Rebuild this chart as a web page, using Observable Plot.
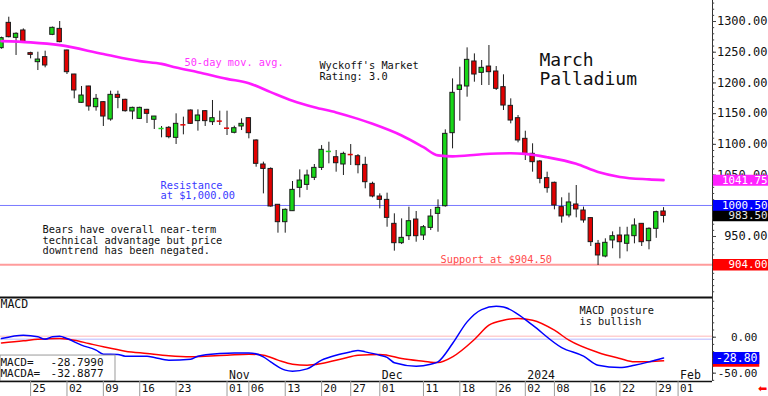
<!DOCTYPE html>
<html><head><meta charset="utf-8">
<script src="https://cdn.jsdelivr.net/npm/d3@7"></script>
<script src="https://cdn.jsdelivr.net/npm/@observablehq/plot@0.6"></script>
<style>
html,body{margin:0;padding:0;background:#fff;}
#chart{width:768px;height:396px;overflow:hidden;background:#fff;}
#chart svg{display:block;}
</style></head><body><div id="chart"></div>
<script>
// ---------- data ----------
const dates = [
"2023-09-19","2023-09-20","2023-09-21","2023-09-22","2023-09-25","2023-09-26","2023-09-27","2023-09-28","2023-09-29",
"2023-10-02","2023-10-03","2023-10-04","2023-10-05","2023-10-06","2023-10-09","2023-10-10","2023-10-11","2023-10-12","2023-10-13","2023-10-16","2023-10-17","2023-10-18","2023-10-19","2023-10-20","2023-10-23","2023-10-24","2023-10-25","2023-10-26","2023-10-27","2023-10-30","2023-10-31",
"2023-11-01","2023-11-02","2023-11-03","2023-11-06","2023-11-07","2023-11-08","2023-11-09","2023-11-10","2023-11-13","2023-11-14","2023-11-15","2023-11-16","2023-11-17","2023-11-20","2023-11-21","2023-11-22","2023-11-24","2023-11-27","2023-11-28","2023-11-29","2023-11-30",
"2023-12-01","2023-12-04","2023-12-05","2023-12-06","2023-12-07","2023-12-08","2023-12-11","2023-12-12","2023-12-13","2023-12-14","2023-12-15","2023-12-18","2023-12-19","2023-12-20","2023-12-21","2023-12-22","2023-12-26","2023-12-27","2023-12-28","2023-12-29",
"2024-01-02","2024-01-03","2024-01-04","2024-01-05","2024-01-08","2024-01-09","2024-01-10","2024-01-11","2024-01-12","2024-01-16","2024-01-17","2024-01-18","2024-01-19","2024-01-22","2024-01-23","2024-01-24","2024-01-25","2024-01-26","2024-01-29","2024-01-30"];
const futureDates = ["2024-01-31","2024-02-01","2024-02-02","2024-02-05","2024-02-06","2024-02-07"];

const open = [
1256.6,1297.8,1273.4,1285.4,1248.5,1233.8,1242.0,1278.3,1288.0,1252.8,
1213.7,1167.6,1194.2,1160.5,1168.7,1140.5,1180.6,1172.5,1153.5,1141.5,
1156.2,1140.0,1125.3,1126.9,1110.6,1132.4,1155.1,1137.8,1154.0,1136.1,
1138.4,1126.9,1118.8,1129.1,1142.6,1106.3,1067.2,1060.0,1001.6,973.3,
991.2,1029.2,1034.0,1045.5,1061.7,1088.0,1079.1,1067.2,1084.0,1080.7,
1066.6,1035.7,1015.1,1009.6,970.6,939.1,950.5,977.6,951.6,964.0,
986.8,999.3,1118.2,1188.7,1194.2,1234.9,1216.4,1226.7,1218.6,1193.1,
1162.7,1142.6,1109.0,1084.6,1072.1,1045.0,1037.4,997.8,984.2,1002.1,
992.3,979.9,938.1,917.4,943.5,951.6,938.1,950.5,970.6,942.4,
962.5,990.7];
const high = [
1274.5,1307.0,1281.6,1288.0,1250.0,1250.0,1251.7,1291.0,1300.0,1253.5,
1214.0,1194.2,1194.5,1181.2,1169.5,1186.6,1186.6,1173.5,1160.5,1160.5,
1157.0,1145.5,1129.0,1129.0,1149.7,1144.3,1156.0,1156.2,1155.0,1171.4,
1154.0,1154.0,1129.6,1141.5,1143.0,1107.4,1071.0,1061.7,1002.0,995.0,
1039.5,1058.5,1058.0,1067.2,1098.0,1103.5,1090.0,1087.2,1099.7,1083.4,
1079.0,1038.4,1019.4,1020.5,986.9,978.7,997.7,990.7,967.8,993.9,
1009.6,1123.6,1206.6,1225.6,1257.1,1247.3,1236.5,1260.9,1226.7,1213.2,
1174.1,1146.9,1121.4,1100.9,1073.7,1054.7,1038.5,1013.0,1020.5,1033.0,
997.8,980.5,943.5,946.2,957.5,965.0,965.0,978.7,970.6,964.1,
991.2,997.0];
const low = [
1255.0,1273.4,1244.7,1265.3,1239.2,1220.2,1224.6,1277.0,1265.3,1213.7,
1174.1,1166.5,1154.0,1154.0,1129.1,1137.7,1158.0,1152.4,1140.0,1140.4,
1134.0,1124.2,1110.6,1109.0,1099.8,1115.5,1132.3,1121.5,1129.1,1130.7,
1130.7,1114.4,1117.1,1122.5,1109.0,1062.8,1019.4,997.7,955.4,955.4,
991.0,1012.9,1025.0,1041.1,1057.4,1068.3,1054.7,1049.3,1065.6,1052.0,
1027.6,1012.9,995.0,965.1,926.1,936.9,943.5,940.7,943.5,959.7,
957.0,997.7,1092.7,1137.7,1176.8,1201.2,1195.8,1195.8,1187.7,1155.1,
1133.4,1102.4,1073.7,1054.7,1035.8,1020.5,993.4,971.7,980.4,980.4,
971.7,933.7,902.8,915.3,930.0,913.6,925.0,938.1,933.7,928.3,
947.0,972.0];
const close = [
1272.9,1274.5,1280.0,1266.4,1245.7,1238.1,1228.4,1289.7,1266.4,1217.5,
1187.7,1179.5,1161.6,1174.1,1145.3,1180.6,1175.7,1154.0,1159.4,1159.4,
1149.7,1145.3,1125.8,1111.7,1133.4,1131.8,1133.4,1147.0,1137.8,1142.6,
1137.8,1126.3,1126.3,1133.4,1118.2,1068.3,1060.0,998.8,973.3,993.4,
1025.9,1041.1,1049.3,1061.7,1091.1,1088.5,1069.3,1084.5,1083.4,1066.1,
1038.4,1015.1,1009.6,980.3,939.1,947.8,974.9,950.5,965.1,982.5,
996.6,1117.1,1183.9,1195.8,1237.6,1213.7,1224.6,1217.5,1190.4,1163.2,
1138.8,1106.3,1084.5,1071.0,1043.9,1028.7,1000.5,982.6,1005.4,994.0,
976.1,940.8,919.1,939.7,950.5,940.7,951.6,967.9,940.7,962.5,
989.6,983.5];

const maDates = ["2023-09-19","2023-09-25","2023-09-29","2023-10-09","2023-10-16","2023-10-19","2023-10-23","2023-10-26","2023-11-01","2023-11-06","2023-11-09","2023-11-14","2023-11-17","2023-11-22","2023-11-28","2023-11-30","2023-12-06","2023-12-11","2023-12-13","2023-12-15","2023-12-21","2023-12-28","2024-01-02","2024-01-05","2024-01-11","2024-01-17","2024-01-22","2024-01-26","2024-01-30"];
const maValues = [1268,1266,1261.5,1247,1235.5,1231,1225,1217.5,1206.6,1199.6,1185,1171,1160.5,1152,1141.5,1133.4,1114.4,1095.4,1082,1080.5,1084,1085.6,1084.5,1079,1068.3,1055,1047,1043,1041.75];

const macdDates = ["2023-09-19","2023-09-22","2023-09-26","2023-09-27","2023-09-28","2023-09-29","2023-10-02","2023-10-04","2023-10-06","2023-10-09","2023-10-11","2023-10-12","2023-10-17","2023-10-18","2023-10-20","2023-10-25","2023-10-26","2023-10-31","2023-11-02","2023-11-06","2023-11-08","2023-11-09","2023-11-13","2023-11-14","2023-11-16","2023-11-20","2023-11-22","2023-11-27","2023-11-28","2023-11-29","2023-12-01","2023-12-04","2023-12-05","2023-12-08","2023-12-12","2023-12-13","2023-12-15","2023-12-19","2023-12-21","2023-12-26","2023-12-27","2023-12-29","2024-01-03","2024-01-09","2024-01-12","2024-01-17","2024-01-22","2024-01-24","2024-01-26","2024-01-30"];
const macdValues = [-1.9,2.8,0.5,-2.8,0.5,1.4,-1.9,-11,-18,-23.6,-24,-26.4,-26.4,-28.2,-31.9,-30.5,-26.4,-22.7,-21.8,-21.8,-27.3,-34.3,-45.8,-47.2,-44,-31.9,-25,-20.4,-18.5,-20.4,-25,-28,-35.6,-40.3,-37.5,-34.3,-8.8,21.3,38.4,43,42.1,31.9,16.7,-14.4,-26.4,-38.9,-42.1,-38.9,-34.3,-28.8];

const signalDates = ["2023-09-19","2023-09-22","2023-09-26","2023-09-29","2023-10-03","2023-10-05","2023-10-09","2023-10-12","2023-10-17","2023-10-20","2023-10-25","2023-10-27","2023-11-01","2023-11-06","2023-11-08","2023-11-10","2023-11-14","2023-11-16","2023-11-20","2023-11-24","2023-11-28","2023-12-01","2023-12-04","2023-12-06","2023-12-11","2023-12-13","2023-12-15","2023-12-20","2023-12-22","2023-12-27","2023-12-29","2024-01-03","2024-01-08","2024-01-10","2024-01-17","2024-01-22","2024-01-24","2024-01-26","2024-01-30"];
const signalValues = [-7.9,-5.1,-2.8,-1.9,-4.2,-8.8,-13.4,-19.4,-22.7,-25.9,-27.3,-26.4,-25,-23.6,-25,-31.9,-37.5,-38.9,-36.6,-29.6,-25,-24,-25,-29.6,-33.3,-35.2,-27.3,-3.2,16.7,23.6,25.9,23.6,9.7,-4.2,-21.3,-29.6,-34.3,-34,-32.9];

const priceTicks = [1300,1250,1200,1150,1100,1050,1000,950,900];
const priceTickLabels = [1300,1250,1200,1150,1100,1050,950];
const macdTicks = [0,-50];
const dateTicks = ["2023-09-25","2023-10-02","2023-10-09","2023-10-16","2023-10-23","2023-11-01","2023-11-06","2023-11-13","2023-11-20","2023-11-27","2023-12-01","2023-12-11","2023-12-18","2023-12-26","2024-01-02","2024-01-08","2024-01-16","2024-01-22","2024-01-29","2024-02-01"];
const dateTickLabels = ["25","02","09","16","23","01","06","13","20","27","01","11","18","26","02","08","16","22","29","01"];
const monthDates = ["2023-11-01","2023-12-01","2024-01-02","2024-02-01"];
const monthLabels = ["Nov","Dec","2024","Feb"];

const lastClose = 983.5, ma50Last = 1041.75, resistance = 1000.5, support = 904;
const macdLast = -28.7990, macdaLast = -32.8877;

// ---------- build ----------
const slots = dates.concat(futureDates);
const idx = d => slots.indexOf(d);
const candles = dates.map((d, k) => ({i: idx(d), o: open[k], h: high[k], l: low[k], c: close[k]}));
const ma = maDates.map((d, k) => ({i: idx(d), v: maValues[k]}));
const macd = macdDates.map((d, k) => ({i: idx(d), v: macdValues[k]}));
const signal = signalDates.map((d, k) => ({i: idx(d), v: signalValues[k]}));

const GREEN = "#18d818", RED = "#e20000", INK = "#1c1c1c";
const MONO = "DejaVu Sans Mono";
const xMin = -0.137, xMax = 97.73;
const boxX1 = xMax + 0.12, boxX2 = xMax + 7.9;
const isDoji = d => Math.abs(d.c - d.o) < 1;

const price = Plot.plot({
  width: 768, height: 296, marginTop: 0, marginBottom: 0, marginLeft: 0, marginRight: 56,
  style: {fontFamily: MONO, fontSize: "10.3px", background: "white", overflow: "visible"},
  x: {type: "linear", domain: [xMin, xMax], axis: null},
  y: {type: "linear", domain: [852.3, 1334.2], axis: null},
  marks: [
    Plot.ruleY([resistance], {stroke: "#7a7aff", strokeWidth: 1}),
    Plot.ruleY([support], {stroke: "#ff9c9c", strokeWidth: 2}),
    Plot.ruleX(candles, {x: "i", y1: "l", y2: "h", stroke: INK, strokeWidth: 1}),
    Plot.rect(candles.filter(d => !isDoji(d)), {
      x1: d => d.i - 0.3, x2: d => d.i + 0.3, y1: "o", y2: "c",
      fill: d => d.c >= d.o ? GREEN : RED, stroke: INK, strokeWidth: 1}),
    Plot.ruleY(candles.filter(isDoji), {
      y: "c", x1: d => d.i - 0.35, x2: d => d.i + 0.35,
      stroke: d => d.c >= d.o ? GREEN : RED, strokeWidth: 1.5}),
    Plot.line(ma, {x: "i", y: "v", stroke: "#ff1aff", strokeWidth: 2.6, curve: "monotone-x"}),
    // annotations
    Plot.text(["50-day mov. avg."], {x: 25.15, y: 1232.8, text: d => d, textAnchor: "start", fill: "#ff33ff", fontSize: 10.3}),
    Plot.text(["Wyckoff's Market\nRating: 3.0"], {x: 43.7, y: 1219.4, text: d => d, textAnchor: "start", fill: "#111", fontSize: 10.3, lineHeight: 1.07}),
    Plot.text(["March\nPalladium"], {x: 73.95, y: 1222.5, text: d => d, textAnchor: "start", fill: "#111", fontSize: 18, lineHeight: 1.08}),
    Plot.text(["Resistance\nat $1,000.00"], {x: 21.86, y: 1024.6, text: d => d, textAnchor: "start", fill: "#3a3aff", fontSize: 10.3, lineHeight: 1.0}),
    Plot.text(["Bears have overall near-term\ntechnical advantage but price\ndowntrend has been negated."], {x: 5.64, y: 943.8, text: d => d, textAnchor: "start", fill: "#111", fontSize: 10.3, lineHeight: 1.0}),
    Plot.text(["Support at $904.50"], {x: 60.34, y: 912.6, text: d => d, textAnchor: "start", fill: "#ff4a4a", fontSize: 10.3}),
    // right axis
    Plot.ruleX([xMax], {stroke: "#333", strokeWidth: 1}),
    Plot.ruleY(d3.range(860, 1331, 10), {x1: xMax, x2: xMax + 0.3, stroke: "#444", strokeWidth: 1}),
    Plot.ruleY(priceTicks, {x1: xMax, x2: xMax + 0.55, stroke: "#444", strokeWidth: 1}),
    Plot.text(priceTickLabels, {y: d => d, text: d => d.toFixed(2), frameAnchor: "right", dx: 55, textAnchor: "end", fill: "#111", fontSize: 12}),
    // value boxes
    Plot.ruleY([ma50Last], {x1: boxX1, x2: boxX2, stroke: "#ff22ff", strokeWidth: 11}),
    Plot.ruleY([resistance], {x1: boxX1, x2: boxX2, stroke: "#0000ff", strokeWidth: 11}),
    Plot.ruleY([lastClose], {x1: boxX1, x2: boxX2, stroke: "#000", strokeWidth: 10.5}),
    Plot.ruleY([support], {x1: boxX1, x2: boxX2, stroke: "#ff0000", strokeWidth: 11.5}),
    Plot.text([ma50Last, resistance, lastClose, support], {y: d => d, text: d => d.toFixed(2), frameAnchor: "right", dx: 55, textAnchor: "end", fill: d => d === lastClose ? "#e8e8e8" : "#fff", fontSize: 10.8})
  ]
});

const osc = Plot.plot({
  width: 768, height: 100, marginTop: 0, marginBottom: 15, marginLeft: 0, marginRight: 56,
  style: {fontFamily: MONO, fontSize: "10.3px", background: "white", overflow: "visible"},
  x: {type: "linear", domain: [xMin, xMax], axis: null},
  y: {type: "linear", domain: [-61.6, 56.6], axis: null},
  marks: [
    Plot.ruleY([0], {stroke: "#ffcfcf", strokeWidth: 1.5, dy: -1}),
    Plot.ruleY([0], {stroke: "#cfcfff", strokeWidth: 1.5, dy: 2}),
    Plot.line(signal, {x: "i", y: "v", stroke: "#ff0000", strokeWidth: 1.5, curve: "monotone-x"}),
    Plot.line(macd, {x: "i", y: "v", stroke: "#0000ff", strokeWidth: 1.5, curve: "monotone-x"}),
    Plot.text(["MACD"], {x: xMin, y: 45.5, text: d => d, textAnchor: "start", fill: "#111", fontSize: 11.5}),
    Plot.text(["MACD posture\nis bullish"], {x: 79.45, y: 29.1, text: d => d, textAnchor: "start", fill: "#111", fontSize: 10.3, lineHeight: 1.07}),
    // value box bottom-left
    Plot.rect([0], {x1: xMin, x2: 15.67, y1: -25.5, y2: -61.6, fill: "white", stroke: "#9a9a9a", strokeWidth: 1}),
    Plot.text(["MACD=", "MACDA="], {x: xMin, y: [-34.8, -50.9], text: d => d, textAnchor: "start", fill: "#111", fontSize: 11}),
    Plot.text([macdLast.toFixed(4), macdaLast.toFixed(4)], {x: 6.74, y: [-34.8, -50.9], text: d => d, textAnchor: "start", fill: "#111", fontSize: 11}),
    // month labels
    Plot.text(monthLabels, {x: monthDates.map(idx), y: -53.3, text: d => d, textAnchor: "start", dx: 2, fill: "#111", fontSize: 11.5}),
    // borders
    Plot.ruleY([56.6], {stroke: "#111", strokeWidth: 2, dy: 1}),
    Plot.ruleY([-61.6], {stroke: "#111", strokeWidth: 1.5}),
    Plot.ruleX([xMax], {y1: -61.6, y2: 56.6, stroke: "#333", strokeWidth: 1}),
    Plot.ruleY(d3.range(-60, 57, 10), {x1: xMax, x2: xMax + 0.3, stroke: "#444", strokeWidth: 1}),
    Plot.ruleY(macdTicks, {x1: xMax, x2: xMax + 0.55, stroke: "#444", strokeWidth: 1}),
    Plot.text(macdTicks, {y: d => d, text: d => d.toFixed(2), frameAnchor: "right", dx: 45, textAnchor: "end", fill: "#111", fontSize: 11}),
    // value boxes
    Plot.ruleY([macdaLast], {x1: boxX1, x2: xMax + 6.5, stroke: "#ff0000", strokeWidth: 12}),
    Plot.ruleY([macdLast], {x1: boxX1, x2: xMax + 6.5, stroke: "#0000ff", strokeWidth: 12}),
    Plot.text([macdLast], {y: d => d, text: d => d.toFixed(2), frameAnchor: "right", dx: 45, textAnchor: "end", fill: "#fff", fontSize: 11.5}),
    // date axis
    Plot.ruleX(dateTicks.map(idx), {x: d => d, y1: -61.6, y2: -83, stroke: "#9a9a9a", strokeWidth: 1}),
    Plot.text(dateTickLabels, {x: dateTicks.map(idx), y: -71.8, text: d => d, textAnchor: "start", dx: 2, fill: "#111", fontSize: 11}),
    Plot.text(["\u2B05"], {y: -71.8, text: d => d, frameAnchor: "right", dx: 50, textAnchor: "middle", fill: "#ff0000", fontSize: 11, fontFamily: "DejaVu Sans"})
  ]
});

const host = document.getElementById("chart");
host.appendChild(price);
host.appendChild(osc);
</script>
</body></html>
